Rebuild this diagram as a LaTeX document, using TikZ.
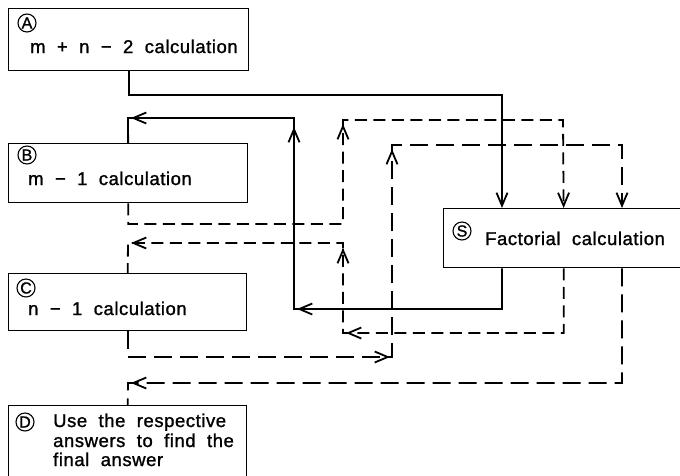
\documentclass[tikz,border=0pt]{standalone}
\usepackage{fontspec}
\setmainfont[WordSpace=2,LetterSpace=3,FakeBold=1.2]{Liberation Sans}
\usetikzlibrary{arrows.meta}
\tikzset{
  box/.style={draw, line width=1.3pt, rectangle, anchor=north west, inner sep=0pt},
  lbl/.style={anchor=base west, inner sep=0pt, font=\fontsize{18.5}{20}\selectfont},
  circ/.style={circle, draw, line width=1.1pt, inner sep=0pt, minimum size=18pt, font=\fontsize{16}{16}\selectfont},
  tipx/.tip={Straight Barb[length=13pt,width=11pt]},
  solidln/.style={line width=1.8pt},
  dashS/.style={line width=1.8pt, dash pattern=on 12pt off 6.5pt},
  dashL/.style={line width=1.8pt, dash pattern=on 18pt off 8pt},
  ah/.style={line width=1.8pt, -{tipx}}
}
\begin{document}
\begin{tikzpicture}[x=1pt,y=-1pt]
\fill[white] (0,0) rectangle (680,475);
\useasboundingbox (0,0) rectangle (680,475);

% boxes
\node[box, minimum width=240pt, minimum height=62pt] (A) at (8,8) {};
\node[box, minimum width=239pt, minimum height=59pt] (B) at (8,143) {};
\node[box, minimum width=238pt, minimum height=57pt] (C) at (8,273) {};
\node[box, minimum width=238pt, minimum height=85pt] (D) at (8,405) {};
\node[box, minimum width=240pt, minimum height=59pt] (S) at (443,208) {};

% labels
\node[circ] (Ac) at (27,23) {A};
\node[lbl] (At) at (30,53) {m + n − 2 calculation};
\node[circ] (Bc) at (27,155) {B};
\node[lbl] (Bt) at (28,185) {m − 1 calculation};
\node[circ] (Cc) at (26,288) {C};
\node[lbl] (Ct) at (28,315) {n − 1 calculation};
\node[circ] (Dc) at (25,422) {D};
\node[lbl] (D1) at (53,427) {Use the respective};
\node[lbl] (D2) at (53,447) {answers to find the};
\node[lbl] (D3) at (53,466) {final answer};
\node[circ] (Sc) at (462,231) {S};
\node[lbl] (St) at (485,245) {Factorial calculation};

% A -> S (solid)
\draw[solidln, -{tipx}] (A.south) |- (502,95) -- (502,0 |- S.north);
% S -> B (solid)
\draw[solidln] (502,0 |- S.south) |- (294,309) |- (128,118) -- (B.north);
\draw[ah] (298,309) -- (297,309);
\draw[ah] (294,128) -- (294,127);
\draw[ah] (132,118) -- (131,118);

% B -> S (dashed)
\draw[dashS, -{tipx}] (B.south) |- (343,224) |- (563,120) -- (S.north);
\draw[ah] (343,125) -- (343,124);

% S -> C (dashed)
\draw[dashS] (S.south) |- (343,333) |- (128,243) -- (C.north);
\draw[ah] (347,333) -- (346,333);
\draw[ah] (343,249) -- (343,248);
\draw[ah] (132,243) -- (131,243);

% C -> S (long dashes)
\draw[dashL, -{tipx}] (C.south) |- (392,357) |- (622,145) -- (622,0 |- S.north);
\draw[ah] (389,357) -- (390,357);
\draw[ah] (392,150) -- (392,149);

% S -> D (long dashes)
\draw[dashL] (622,0 |- S.south) |- (128,383) -- (D.north);
\draw[ah] (132,383) -- (131,383);
\end{tikzpicture}
\end{document}
